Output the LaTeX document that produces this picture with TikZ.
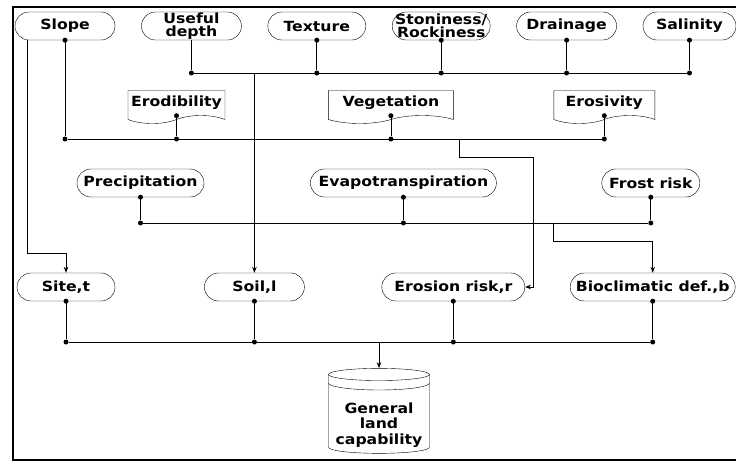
\documentclass[tikz,border=0pt]{standalone}
\usepackage{fontspec}
\setmainfont{DejaVu Sans}[FakeStretch=1.12]
\usetikzlibrary{shapes.misc, shapes.symbols, shapes.geometric, positioning, arrows.meta}

\begin{document}
\begin{tikzpicture}[
        x=1pt, y=-1pt,
        font=\bfseries\fontsize{14}{13}\selectfont,
        node distance=26pt,
        % Styles
        factor/.style={draw, rounded corners=14pt, minimum width=#1, minimum height=28pt, inner xsep=2pt, inner ysep=0pt, align=center},
        input_tape/.style={draw, tape, tape bend top=none, tape bend bottom=in and out, tape bend height=8pt, minimum width=#1, minimum height=33pt, inner sep=0pt},
        result_db/.style={draw, cylinder, shape border rotate=90, aspect=0.14, minimum width=101pt, minimum height=85pt, inner sep=0pt, text width=87pt, text height=22pt, text depth=22pt},
        db_text/.style={align=center, inner sep=0pt, font=\bfseries\fontsize{14}{15.5}\selectfont},
        junction/.style={circle, fill, inner sep=0pt, minimum size=5pt},
        link/.style={draw, line width=0.8pt},
        arrow/.style={link, -{Stealth[length=6pt, width=4.5pt]}},
        frame/.style={line width=1.8pt}
    ]
    \useasboundingbox (0,0) rectangle (736,461);

    % Frame
    \draw[frame] (736,7) -- (13,7) -- (13,460) -- (736,460);

    % Bus levels
    \coordinate (bus1) at (0,73);
    \coordinate (bus2) at (0,139);
    \coordinate (bus3) at (0,223);
    \coordinate (bus4) at (0,342);

    % Row 1: land attributes
    \node[factor=100pt] (slope) at (65,26) {Slope};
    \node[factor=100pt, right=of slope] (depth) {Useful\\depth};
    \node[factor=98pt, right=of depth] (texture) {Texture};
    \node[factor=98pt, right=of texture] (stoniness) {Stoniness/\\Rockiness};
    \node[factor=100pt, right=of stoniness] (drainage) {Drainage};
    \node[factor=93pt, right=of drainage] (salinity) {Salinity};

    % Row 2: erosion inputs
    \node[input_tape=97pt] (erodibility) at (176.5,103) {Erodibility};
    \node[input_tape=125pt, right=103pt of erodibility] (vegetation) {Vegetation};
    \node[input_tape=101pt, right=100pt of vegetation] (erosivity) {Erosivity};

    % Row 3: climate inputs
    \node[factor=127pt] (precip) at (140.5,183) {Precipitation};
    \node[factor=186pt, right=106pt of precip] (evapo) {Evapotranspiration};
    \node[factor=98pt, right=105pt of evapo] (frost) {Frost risk};

    % Row 4: partial indices
    \node[factor=98pt] (site) at (66,287) {Site,t};
    \node[factor=100pt, right=89pt of site] (soil) {Soil,l};
    \node[factor=143pt, right=77pt of soil] (erosion) {Erosion risk,r};
    \node[factor=165pt, right=45pt of erosion] (bioclim) {Bioclimatic def.,b};

    % Result
    \node[result_db] (capability) at (379,414) {};
    \node[db_text] (capability_txt) at ([yshift=-11pt]capability.center) {General\\land\\capability};
    \draw (328.5,383) arc[start angle=180, end angle=360, x radius=50.5pt, y radius=7pt];

    % Row 1 links
    \foreach \n in {slope,texture,stoniness,drainage,salinity}
        \node[junction] (\n_d) at (\n.south) {};
    \foreach \n in {depth,texture,stoniness,drainage,salinity} {
        \node[junction] (\n_j) at (\n.south |- bus1) {};
        \draw[link] (\n) -- (\n_j);
    }
    \draw[link] (depth_j) -- (salinity_j);
    \coordinate (soil_in) at (soil.north |- bus1);
    \draw[arrow] (soil_in) -- (soil.north);

    % Slope links
    \node[junction] (slope_j) at (slope.south |- bus2) {};
    \draw[link] (slope) -- (slope_j);
    \coordinate (slope_l) at ([xshift=-38pt]slope.south);
    \draw[arrow] (slope_l) |- ([yshift=19pt]site.north) -- (site.north);

    % Row 2 links
    \foreach \n in {erodibility,vegetation,erosivity} {
        \node[junction] (\n_d) at (\n.south) {};
        \node[junction] (\n_j) at (\n.south |- bus2) {};
        \draw[link] (\n_d) -- (\n_j);
    }
    \draw[link] (slope_j) -- (erosivity_j);
    \coordinate (erosion_in) at (459,139);
    \draw[arrow] (erosion_in) -- ++(0,18) -| ([xshift=8pt]erosion.east) -- (erosion.east);

    % Row 3 links
    \foreach \n in {precip,evapo,frost} {
        \node[junction] (\n_d) at (\n.south) {};
        \node[junction] (\n_j) at (\n.south |- bus3) {};
        \draw[link] (\n) -- (\n_j);
    }
    \draw[link] (precip_j) -- (frost_j);
    \coordinate (bioclim_in) at (553,223);
    \draw[arrow] (bioclim_in) -- ++(0,18) -| (bioclim.north);

    % Row 4 links
    \foreach \n in {site,soil,erosion,bioclim} {
        \node[junction] (\n_d) at (\n.south) {};
        \node[junction] (\n_j) at (\n.south |- bus4) {};
        \draw[link] (\n) -- (\n_j);
    }
    \draw[link] (site_j) -- (bioclim_j);
    \coordinate (capability_in) at (capability.north |- bus4);
    \draw[arrow] (capability_in) -- (capability.north);

\end{tikzpicture}
\end{document}
